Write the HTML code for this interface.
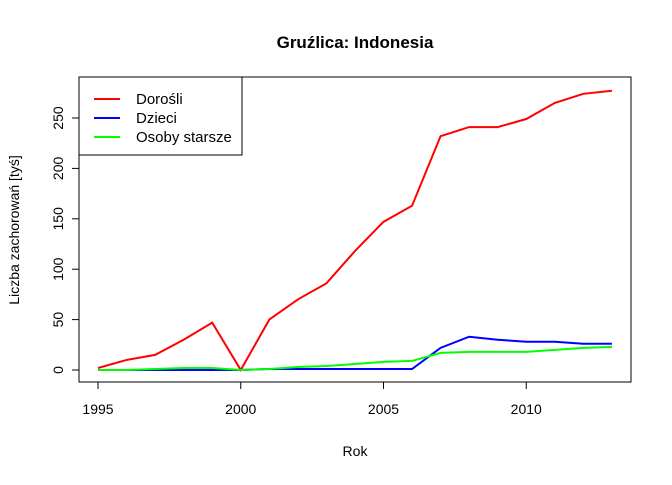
<!DOCTYPE html>
<html><head><meta charset="utf-8"><style>body{margin:0;background:#fff}svg{font-family:"Liberation Sans",Arial,sans-serif}</style></head>
<body>
<svg id="c" width="672" height="480"></svg>
<script>
const years=[1995,1996,1997,1998,1999,2000,2001,2002,2003,2004,2005,2006,2007,2008,2009,2010,2011,2012,2013];
const adults=[2,10,15,30,47,0,50,70,86,118,147,163,232,241,241,249,265,274,277];
const children=[0,0,0,0,0,0,1,1,1,1,1,1,22,33,30,28,28,26,26];
const elderly=[0,0,1,2,2,0,1,3,4,6,8,9,17,18,18,18,20,22,23];
const xTicks=[1995,2000,2005,2010];
const yTicks=[0,50,100,150,200,250];
const NS="http://www.w3.org/2000/svg",svg=document.getElementById('c');
const X=v=>98+(v-1995)*28.55, Y=v=>370-v*1.008;
function el(t,a,txt){const e=document.createElementNS(NS,t);for(const k in a)e.setAttribute(k,a[k]);if(txt!=null)e.textContent=txt;svg.appendChild(e);return e;}
let e;
e=el('text',{x:355,y:48,'text-anchor':'middle','font-size':17,'font-weight':'bold'},'Gruźlica: Indonesia');

e=el('rect',{x:79,y:77,width:552,height:305,fill:'none',stroke:'#000'});

e=el('line',{x1:X(1995),x2:X(2010),y1:382,y2:382,stroke:'#000'});
for(const t of xTicks){
e=el('line',{x1:X(t),x2:X(t),y1:382,y2:389,stroke:'#000'});
e=el('text',{x:X(t),y:414,'text-anchor':'middle','font-size':14},t);

}
for(const t of yTicks){
e=el('line',{x1:72,x2:79,y1:Y(t),y2:Y(t),stroke:'#000'});
e=el('text',{x:63,y:Y(t),'text-anchor':'middle','font-size':14,transform:`rotate(-90 63 ${Y(t)})`},t);

}
e=el('text',{x:355,y:456,'text-anchor':'middle','font-size':14},'Rok');

e=el('text',{x:19,y:230,'text-anchor':'middle','font-size':14,transform:'rotate(-90 19 230)'},'Liczba zachorowań [tyś]');

const series=[[adults,'#ff0000','adults-line'],[children,'#0000ff','children-line'],[elderly,'#00ff00','elderly-line']];
for(const [d,c,n] of series){
e=el('polyline',{points:d.map((v,i)=>X(years[i])+','+Y(v)).join(' '),fill:'none',stroke:c,'stroke-width':2});

}
e=el('rect',{x:79,y:77,width:163,height:78,fill:'#fff',stroke:'#000'});

const labels=['Dorośli','Dzieci','Osoby starsze'];
labels.forEach((l,i)=>{const y=99+i*19;
e=el('line',{x1:94,x2:120,y1:y,y2:y,stroke:series[i][1],'stroke-width':2});
e=el('text',{x:136,y:y+5,'font-size':15},l);

});
</script>
</body></html>
